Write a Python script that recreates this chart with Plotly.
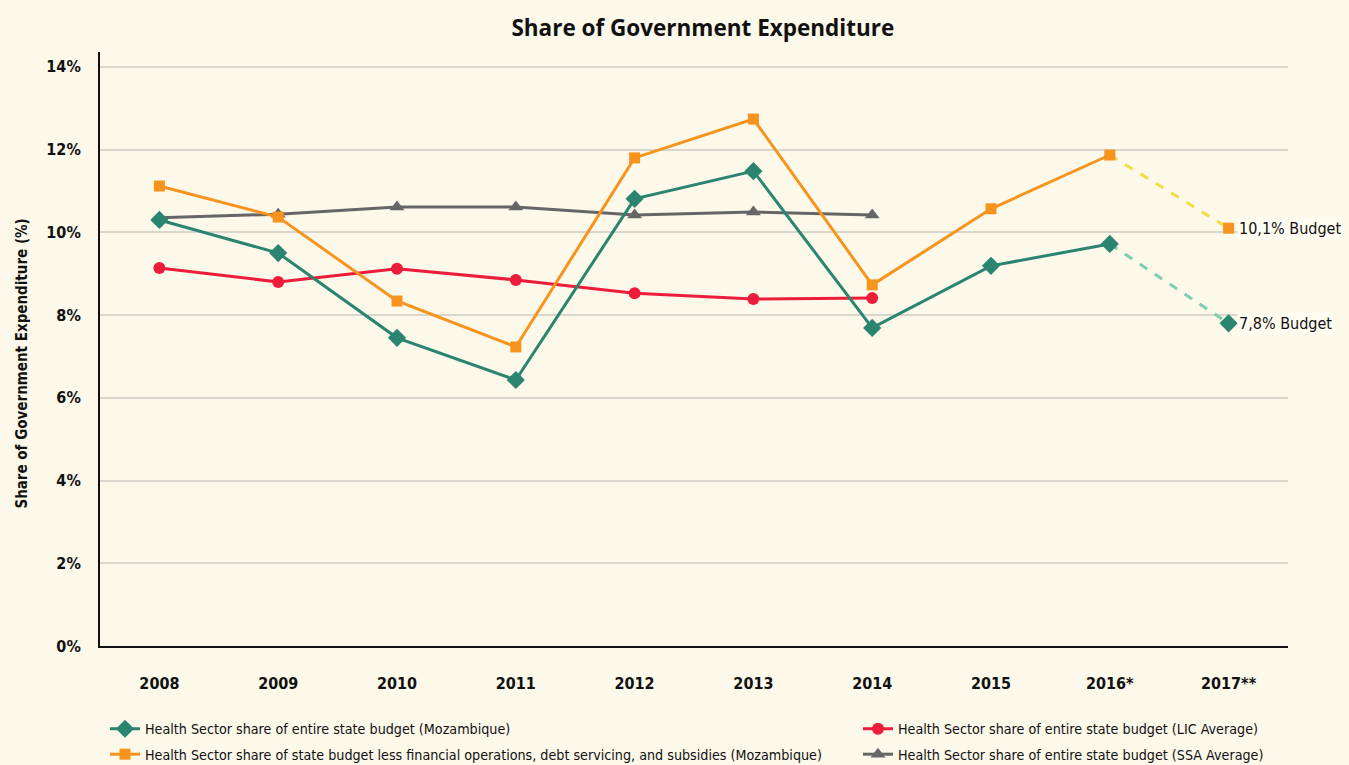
import plotly.graph_objects as go

categories = ["2008", "2009", "2010", "2011", "2012", "2013", "2014", "2015", "2016*", "2017**"]

moz_total = [10.30, 9.50, 7.45, 6.43, 10.81, 11.48, 7.69, 9.19, 9.72]
moz_total_budget = 7.8
moz_less = [11.12, 10.37, 8.34, 7.23, 11.80, 12.74, 8.73, 10.57, 11.87]
moz_less_budget = 10.1
lic_avg = [9.14, 8.80, 9.12, 8.85, 8.53, 8.39, 8.41]
ssa_avg = [10.35, 10.44, 10.61, 10.61, 10.42, 10.49, 10.42]

budget_labels = ["10,1% Budget", "7,8% Budget"]

names = [
    "Health Sector share of entire state budget (Mozambique)",
    "Health Sector share of entire state budget (LIC Average)",
    "Health Sector share of state budget less financial operations, debt servicing, and subsidies (Mozambique)",
    "Health Sector share of entire state budget (SSA Average)",
]

TEAL = "#2A8470"
TEAL_LIGHT = "#7FCDB3"
ORANGE = "#F7941D"
YELLOW = "#F2DE45"
RED = "#EC1C3A"
GRAY = "#666666"
BG = "#FCF8EA"
COND = "DejaVu Sans Condensed, DejaVu Sans, sans-serif"

fig = go.Figure()

# dashed budget projections (drawn below main lines)
fig.add_trace(go.Scatter(
    x=[categories[8], categories[9]], y=[moz_less[-1], moz_less_budget],
    mode="lines", line=dict(color=YELLOW, width=3, dash="dash"),
    showlegend=False, hoverinfo="skip"))
fig.add_trace(go.Scatter(
    x=[categories[8], categories[9]], y=[moz_total[-1], moz_total_budget],
    mode="lines", line=dict(color=TEAL_LIGHT, width=3, dash="dash"),
    showlegend=False, hoverinfo="skip"))
fig.add_trace(go.Scatter(
    x=[categories[9]], y=[moz_less_budget], mode="markers",
    marker=dict(symbol="square", size=11, color=ORANGE), showlegend=False))
fig.add_trace(go.Scatter(
    x=[categories[9]], y=[moz_total_budget], mode="markers",
    marker=dict(symbol="diamond", size=14, color=TEAL), showlegend=False))

fig.add_trace(go.Scatter(
    x=categories[:len(ssa_avg)], y=ssa_avg, name=names[3], legend="legend2",
    legendrank=2, legendgroup="d",
    mode="lines+markers", line=dict(color=GRAY, width=3),
    marker=dict(symbol="triangle-up", size=13, color=GRAY)))
fig.add_trace(go.Scatter(
    x=categories[:len(lic_avg)], y=lic_avg, name=names[1], legend="legend2",
    legendrank=1, legendgroup="c",
    mode="lines+markers", line=dict(color=RED, width=3),
    marker=dict(symbol="circle", size=12, color=RED)))
fig.add_trace(go.Scatter(
    x=categories[:len(moz_less)], y=moz_less, name=names[2], legend="legend",
    legendrank=2, legendgroup="b",
    mode="lines+markers", line=dict(color=ORANGE, width=3),
    marker=dict(symbol="square", size=11, color=ORANGE)))
fig.add_trace(go.Scatter(
    x=categories[:len(moz_total)], y=moz_total, name=names[0], legend="legend",
    legendrank=1, legendgroup="a",
    mode="lines+markers", line=dict(color=TEAL, width=3),
    marker=dict(symbol="diamond", size=14, color=TEAL)))

for val, txt in zip([moz_less_budget, moz_total_budget], budget_labels):
    fig.add_annotation(x=categories[9], y=val, text=txt, xref="x", yref="y",
                       xanchor="left", yanchor="middle", xshift=8, showarrow=False,
                       font=dict(family=COND, size=16, color="#111111"),
                       bgcolor="#FFFCF1", borderpad=1)

fig.add_annotation(x=-0.066, y=(646 - 364) / 594, xref="paper", yref="paper",
                   text="<b>Share of Government Expenditure (%)</b>", textangle=-90,
                   showarrow=False, xanchor="center", yanchor="middle",
                   font=dict(family=COND, size=15, color="#111111"))

legend_common = dict(orientation="v", yanchor="top", xanchor="left",
                     xref="container", yref="container",
                     bgcolor="rgba(0,0,0,0)", traceorder="grouped", tracegroupgap=4,
                     font=dict(family=COND, size=14.2, color="#111111"), itemwidth=30)

fig.update_layout(
    width=1349, height=765,
    paper_bgcolor=BG, plot_bgcolor=BG,
    margin=dict(l=100, r=61, t=52, b=119, autoexpand=False),
    title=dict(text="<b>Share of Government Expenditure</b>", x=0.521, xanchor="center",
               y=0.963, yanchor="middle",
               font=dict(family="Open Sans", size=22.5, color="#111111")),
    showlegend=True,
    legend=dict(x=105 / 1349, y=(765 - 713) / 765, **legend_common),
    legend2=dict(x=858 / 1349, y=(765 - 713) / 765, **legend_common),
    font=dict(family=COND, color="#111111"),
)

fig.update_xaxes(
    type="category", categoryorder="array", categoryarray=categories,
    range=[-0.5, 9.5], showgrid=False, zeroline=False,
    showline=True, linecolor="#111111", linewidth=2,
    ticks="", ticklabelstandoff=22,
    tickfont=dict(family=COND, size=16, color="#111111", weight="bold"),
)
fig.update_yaxes(
    range=[0, 14.36], dtick=2, tick0=0, ticksuffix="%",
    showgrid=True, gridcolor="#D9D6CD", gridwidth=1.5, zeroline=False,
    showline=True, linecolor="#111111", linewidth=2,
    ticks="", ticklabelstandoff=14,
    tickfont=dict(family=COND, size=16, color="#111111", weight="bold"),
)

fig.write_html(
    "out.html",
    config={"displayModeBar": False},
    post_script="document.body.style.margin='0';document.body.style.background='#FCF8EA';",
)
